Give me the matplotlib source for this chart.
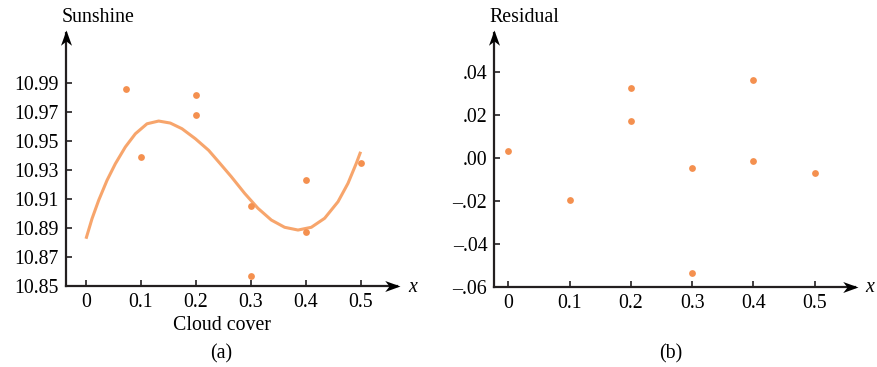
import numpy as np
import matplotlib
matplotlib.use('Agg')
import matplotlib.pyplot as plt
from matplotlib.path import Path

plt.rcParams['font.family'] = ['Liberation Serif', 'DejaVu Serif']

# panel (a): sunshine vs cloud cover
cloud = [0.072, 0.10, 0.20, 0.20, 0.30, 0.30, 0.40, 0.40, 0.50]
sunshine = [10.986, 10.939, 10.982, 10.968, 10.905, 10.857, 10.923, 10.887, 10.935]

# fitted curve
curve_x = [0.0, 0.0109, 0.0230, 0.0382, 0.0533, 0.0715, 0.0897, 0.1109, 0.1321, 0.1533,
           0.1745, 0.1988, 0.2230, 0.2442, 0.2642, 0.2885, 0.3127, 0.3370, 0.3612, 0.3855,
           0.4097, 0.4339, 0.4582, 0.4764, 0.4915, 0.4994]
curve_y = [10.8826, 10.8964, 10.9091, 10.9229, 10.9343, 10.9459, 10.9550, 10.9619, 10.9638, 10.9624,
           10.9585, 10.9516, 10.9436, 10.9343, 10.9254, 10.9139, 10.9036, 10.8955, 10.8905, 10.8886,
           10.8905, 10.8967, 10.9081, 10.9208, 10.9346, 10.9426]

# panel (b): residuals
res_x = [0.0, 0.1, 0.2, 0.2, 0.3, 0.3, 0.4, 0.4, 0.5]
residual = [0.0031, -0.0196, 0.0322, 0.0173, -0.0045, -0.0535, 0.0359, -0.0013, -0.0071]

xticks = [0, 0.1, 0.2, 0.3, 0.4, 0.5]
xticklabels = ['0', '0.1', '0.2', '0.3', '0.4', '0.5']
yticks_a = [10.85, 10.87, 10.89, 10.91, 10.93, 10.95, 10.97, 10.99]
yticks_b = [-0.06, -0.04, -0.02, 0.00, 0.02, 0.04]
yticklabels_b = ['\u2013.06', '\u2013.04', '\u2013.02', '.00', '.02', '.04']

W, H = 877, 367
pt_color = '#F4904F'
line_color = '#F7A56C'
fs = 14.3

fig = plt.figure(figsize=(W / 100, H / 100), dpi=100)

def px_axes(l, r, b, t):
    return fig.add_axes([l / W, 1 - b / H, (r - l) / W, (b - t) / H])

head_r = Path([(0, 0), (-1, 0.36), (-0.72, 0), (-1, -0.36), (0, 0)],
              [Path.MOVETO, Path.LINETO, Path.LINETO, Path.LINETO, Path.CLOSEPOLY])
head_u = Path([(0, 0), (-0.36, -1), (0, -0.72), (0.36, -1), (0, 0)],
              [Path.MOVETO, Path.LINETO, Path.LINETO, Path.LINETO, Path.CLOSEPOLY])

def style_axes(ax):
    for s in ax.spines.values():
        s.set_visible(False)
    ax.plot([0, 0.99], [0, 0], color='#231f20', lw=1.6, transform=ax.transAxes, clip_on=False)
    ax.plot([0, 0], [0, 0.99], color='#231f20', lw=1.6, transform=ax.transAxes, clip_on=False)
    ax.plot([1], [0], marker=head_r, ms=22, color='black', mec='none',
            transform=ax.transAxes, clip_on=False)
    ax.plot([0], [1], marker=head_u, ms=22, color='black', mec='none',
            transform=ax.transAxes, clip_on=False)
    ax.tick_params(direction='in', length=4, width=1.2, color='#231f20', labelsize=fs)
    ax.tick_params(axis='x', pad=5)
    ax.tick_params(axis='y', pad=5)

# (a)
ax1 = px_axes(66, 400, 286, 30)
ax1.plot(curve_x, curve_y, color=line_color, lw=2.2, solid_capstyle='butt',
         solid_joinstyle='round')
ax1.scatter(cloud, sunshine, s=24, color=pt_color, zorder=3, linewidths=0)
ax1.set_xlim(-0.0364, 0.571)
ax1.set_ylim(10.85, 11.0266)
ax1.set_xticks(xticks)
ax1.set_xticklabels(xticklabels)
ax1.set_yticks(yticks_a)
ax1.set_yticklabels(['%.2f' % v for v in yticks_a])
style_axes(ax1)

# (b)
ax2 = px_axes(494.3, 858.3, 287.3, 30)
ax2.scatter(res_x, residual, s=24, color=pt_color, zorder=3, linewidths=0)
ax2.set_xlim(-0.0228, 0.571)
ax2.set_ylim(-0.06, 0.0593)
ax2.set_xticks(xticks)
ax2.set_xticklabels(xticklabels)
ax2.set_yticks(yticks_b)
ax2.set_yticklabels(yticklabels_b)
style_axes(ax2)

def ftext(x, y, s, **kw):
    fig.text(x / W, 1 - y / H, s, fontsize=fs, **kw)

ftext(62, 18, 'Sunshine', ha='left', va='center')
ftext(489, 18, 'Residual', ha='left', va='center')
ftext(413, 288, 'x', ha='center', va='center', style='italic')
ftext(870, 287, 'x', ha='center', va='center', style='italic')
ftext(222, 326, 'Cloud cover', ha='center', va='center')
ftext(221, 354, '(a)', ha='center', va='center')
ftext(671, 354, '(b)', ha='center', va='center')

fig.savefig('out.png', dpi=100)
